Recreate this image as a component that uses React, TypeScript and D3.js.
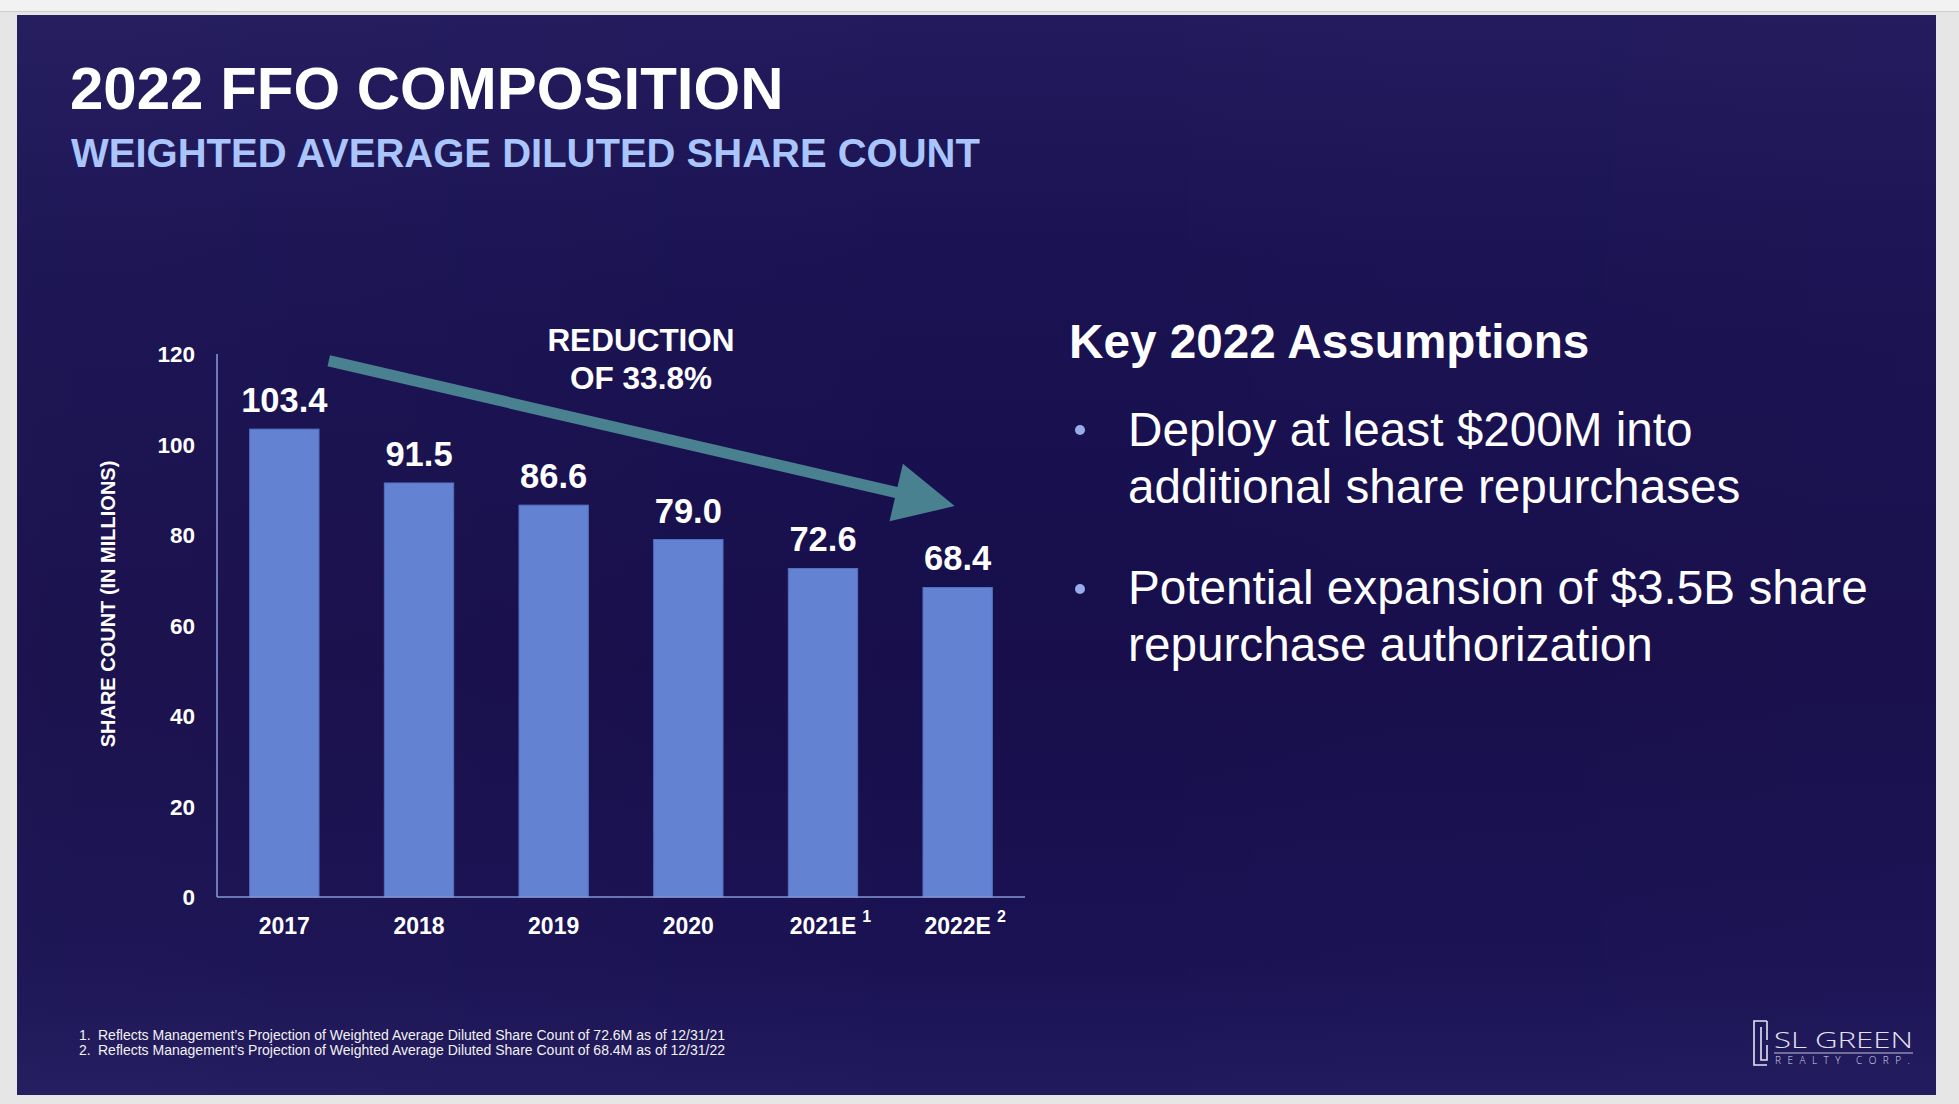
import React from "react";
import * as d3 from "d3";

const years = ["2017", "2018", "2019", "2020", "2021E", "2022E"];
const shareCounts = [103.4, 91.5, 86.6, 79.0, 72.6, 68.4];
const footnoteMarks = ["", "", "", "", "1", "2"];
const yTicks = [0, 20, 40, 60, 80, 100, 120];
const bullets = [
  ["Deploy at least $200M into", "additional share repurchases"],
  ["Potential expansion of $3.5B share", "repurchase authorization"],
];
const footnotes = [
  "Reflects Management\u2019s Projection of Weighted Average Diluted Share Count of 72.6M as of 12/31/21",
  "Reflects Management\u2019s Projection of Weighted Average Diluted Share Count of 68.4M as of 12/31/22",
];
// arrow annotation expressed in data units
const arrowStartValue = 118.5;
const arrowEndValue = 86.4;

const FONT = '"Liberation Sans", Arial, Helvetica, sans-serif';
const W = 1959;
const H = 1104;

function measure(text: string, font: string): number {
  const c = document.createElement("canvas").getContext("2d");
  if (!c) return text.length * 12;
  c.font = font;
  return c.measureText(text).width;
}

export default function App() {
  const x = d3
    .scaleBand<string>()
    .domain(years)
    .range([217, 1025])
    .paddingInner(0.485)
    .paddingOuter(0.2425);
  const y = d3.scaleLinear().domain([0, 120]).range([897, 354]);
  const fmt = d3.format(".1f");
  const bw = x.bandwidth();
  const cx = (k: string) => (x(k) as number) + bw / 2;

  // arrow geometry
  const sx = cx(years[0]) + x.step() * 0.33;
  const sy = y(arrowStartValue);
  const tx = cx(years[years.length - 1]) - 3;
  const ty = y(arrowEndValue);
  const len = Math.hypot(tx - sx, ty - sy);
  const ux = (tx - sx) / len;
  const uy = (ty - sy) / len;
  const nx = -uy;
  const ny = ux;
  const headLen = 60;
  const headHalf = 29.5;
  const shaftHalf = 5.6;
  const bx = tx - ux * headLen;
  const by = ty - uy * headLen;
  const arrowPts = [
    [sx + nx * shaftHalf, sy + ny * shaftHalf],
    [bx + nx * shaftHalf, by + ny * shaftHalf],
    [bx + nx * headHalf, by + ny * headHalf],
    [tx, ty],
    [bx - nx * headHalf, by - ny * headHalf],
    [bx - nx * shaftHalf, by - ny * shaftHalf],
    [sx - nx * shaftHalf, sy - ny * shaftHalf],
  ];
  const arrowPath = d3.line()(arrowPts as [number, number][]) + "Z";

  const xLabelFont = `bold 23px ${FONT}`;

  return (
    <div style={{ position: "fixed", left: 0, top: 0, width: W, height: H }}>
      <svg width={W} height={H} viewBox={`0 0 ${W} ${H}`} style={{ display: "block" }}>
        <defs>
          <linearGradient id="bg" x1="0" y1="0" x2="0" y2="1">
            <stop offset="0" stopColor="#221a5c" />
            <stop offset="0.22" stopColor="#1a1252" />
            <stop offset="0.6" stopColor="#170e4b" />
            <stop offset="0.88" stopColor="#1a1253" />
            <stop offset="1" stopColor="#211a5d" />
          </linearGradient>
          <linearGradient id="bgh" x1="0" y1="0" x2="1" y2="0">
            <stop offset="0" stopColor="#ffffff" stopOpacity="0.02" />
            <stop offset="0.5" stopColor="#ffffff" stopOpacity="0" />
            <stop offset="1" stopColor="#ffffff" stopOpacity="0.01" />
          </linearGradient>
        </defs>
        {/* page */}
        <rect x={0} y={0} width={W} height={H} fill="#e6e6e6" />
        <rect x={0} y={0} width={W} height={11} fill="#f2f2f2" />
        <line x1={0} x2={W} y1={11.5} y2={11.5} stroke="#cdcdcd" strokeWidth={1} />
        {/* slide */}
        <rect x={17} y={15} width={1919} height={1080} fill="url(#bg)" />
        <rect x={17} y={15} width={1919} height={1080} fill="url(#bgh)" />

        {/* titles */}
        <text x={70} y={109} fill="#ffffff" fontFamily={FONT} fontWeight="bold" fontSize={60}>
          2022 FFO COMPOSITION
        </text>
        <text x={71} y={167} fill="#a9c5fb" fontFamily={FONT} fontWeight="bold" fontSize={40}>
          WEIGHTED AVERAGE DILUTED SHARE COUNT
        </text>

        {/* bars */}
        {years.map((k, i) => (
          <rect
            key={k}
            x={x(k)}
            y={y(shareCounts[i])}
            width={bw}
            height={y(0) - y(shareCounts[i])}
            fill="#6382d2"
            stroke="#5470c2"
            strokeWidth={1}
          />
        ))}
        {/* value labels */}
        {years.map((k, i) => (
          <text
            key={"v" + k}
            x={cx(k)}
            y={y(shareCounts[i]) - 17}
            textAnchor="middle"
            fill="#ffffff"
            fontFamily={FONT}
            fontWeight="bold"
            fontSize={34.5}
          >
            {fmt(shareCounts[i])}
          </text>
        ))}

        {/* axes */}
        <line x1={217} x2={217} y1={y(120)} y2={y(0)} stroke="#8397d3" strokeWidth={1.6} />
        <line x1={217} x2={1025} y1={y(0)} y2={y(0)} stroke="#8397d3" strokeWidth={1.6} />
        {yTicks.map((t) => (
          <text
            key={"t" + t}
            x={195}
            y={y(t)}
            dy="0.36em"
            textAnchor="end"
            fill="#ffffff"
            fontFamily={FONT}
            fontWeight="bold"
            fontSize={22.5}
          >
            {t}
          </text>
        ))}
        {years.map((k, i) => {
          const w = measure(k, xLabelFont);
          return (
            <g key={"x" + k}>
              <text
                x={cx(k)}
                y={934}
                textAnchor="middle"
                fill="#ffffff"
                fontFamily={FONT}
                fontWeight="bold"
                fontSize={23}
              >
                {k}
              </text>
              {footnoteMarks[i] && (
                <text
                  x={cx(k) + w / 2 + 6}
                  y={922}
                  fill="#ffffff"
                  fontFamily={FONT}
                  fontWeight="bold"
                  fontSize={16}
                >
                  {footnoteMarks[i]}
                </text>
              )}
            </g>
          );
        })}
        <text
          transform="translate(115,604) rotate(-90)"
          textAnchor="middle"
          fill="#ffffff"
          fontFamily={FONT}
          fontWeight="bold"
          fontSize={20}
        >
          SHARE COUNT (IN MILLIONS)
        </text>

        {/* arrow annotation */}
        <path d={arrowPath} fill="#4a8191" />
        <text textAnchor="middle" fill="#ffffff" fontFamily={FONT} fontWeight="bold" fontSize={31.5}>
          <tspan x={641} y={351}>REDUCTION</tspan>
          <tspan x={641} y={389}>OF 33.8%</tspan>
        </text>

        {/* right panel */}
        <text x={1069} y={358} fill="#ffffff" fontFamily={FONT} fontWeight="bold" fontSize={47.7}>
          Key 2022 Assumptions
        </text>
        {bullets.map((lines, bi) => (
          <g key={"b" + bi}>
            <circle cx={1080} cy={430 + bi * 159} r={5} fill="#98acea" />
            {lines.map((ln, li) => (
              <text
                key={li}
                x={1128}
                y={446 + bi * 158 + li * 57}
                fill="#ffffff"
                fontFamily={FONT}
                fontSize={47.7}
              >
                {ln}
              </text>
            ))}
          </g>
        ))}

        {/* footnotes */}
        {footnotes.map((f, i) => (
          <g key={"f" + i}>
            <text x={79} y={1040 + i * 15} fill="#f2f2f2" fontFamily={FONT} fontSize={14}>
              {i + 1 + "."}
            </text>
            <text
              x={98}
              y={1040 + i * 15}
              fill="#f2f2f2"
              fontFamily={FONT}
              fontSize={14}
              textLength={627}
              lengthAdjust="spacingAndGlyphs"
            >
              {f}
            </text>
          </g>
        ))}

        {/* logo */}
        <g fill="none" stroke="#e4e4f0" strokeWidth={1.6}>
          <path d="M1767,1021 H1754 V1065 H1767" />
          <path d="M1767,1021 V1040 M1761,1027 V1060 H1767 V1045" />
        </g>
        <text
          x={1774}
          y={1048}
          fill="#e4e4f0"
          fontFamily='"Open Sans", Lato, sans-serif'
          fontWeight={300}
          fontSize={22}
          textLength={139}
          lengthAdjust="spacingAndGlyphs"
        >
          SL GREEN
        </text>
        <line x1={1774} x2={1913} y1={1053} y2={1053} stroke="#c4c4dc" strokeWidth={1} />
        <text
          x={1775}
          y={1064}
          fill="#d8d8ea"
          fontFamily='"Open Sans", Lato, sans-serif'
          fontWeight={300}
          fontSize={10}
          textLength={135}
          lengthAdjust="spacing"
        >
          REALTY CORP.
        </text>
      </svg>
    </div>
  );
}
